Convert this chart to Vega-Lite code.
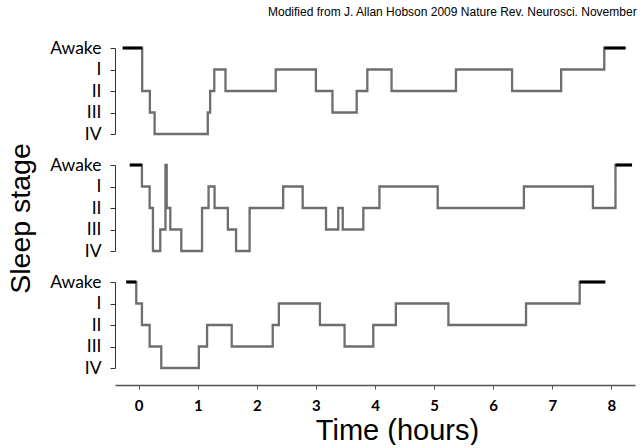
{
  "$schema": "https://vega.github.io/schema/vega-lite/v6.json",
  "padding": {"left": 6, "right": 6, "top": 6, "bottom": 0},
  "background": "white",
  "bounds": "flush",
  "spacing": 31,
  "title": {
    "text": "Modified from J. Allan Hobson 2009 Nature Rev. Neurosci. November",
    "anchor": "end",
    "font": "Liberation Sans",
    "fontSize": 12,
    "fontWeight": "normal",
    "color": "black",
    "offset": 20
  },
  "config": {
    "view": {"stroke": null},
    "axisY": {
      "labelFont": "Lato",
      "labelFontSize": 17.5,
      "labelColor": "black",
      "tickSize": 5,
      "tickColor": "#333",
      "domainColor": "#333",
      "labelPadding": 9,
      "grid": false
    }
  },
  "datasets": {
    "steps": [
      {"panel": 1, "t": -0.27, "stage": "Awake"},
      {"panel": 1, "t": 0.06, "stage": "II"},
      {"panel": 1, "t": 0.19, "stage": "III"},
      {"panel": 1, "t": 0.27, "stage": "IV"},
      {"panel": 1, "t": 1.17, "stage": "III"},
      {"panel": 1, "t": 1.21, "stage": "II"},
      {"panel": 1, "t": 1.28, "stage": "I"},
      {"panel": 1, "t": 1.47, "stage": "II"},
      {"panel": 1, "t": 2.32, "stage": "I"},
      {"panel": 1, "t": 3.0, "stage": "II"},
      {"panel": 1, "t": 3.28, "stage": "III"},
      {"panel": 1, "t": 3.69, "stage": "II"},
      {"panel": 1, "t": 3.87, "stage": "I"},
      {"panel": 1, "t": 4.28, "stage": "II"},
      {"panel": 1, "t": 5.37, "stage": "I"},
      {"panel": 1, "t": 6.32, "stage": "II"},
      {"panel": 1, "t": 7.15, "stage": "I"},
      {"panel": 1, "t": 7.88, "stage": "Awake"},
      {"panel": 1, "t": 8.24, "stage": "Awake"},
      {"panel": 2, "t": -0.15, "stage": "Awake"},
      {"panel": 2, "t": 0.056, "stage": "I"},
      {"panel": 2, "t": 0.186, "stage": "II"},
      {"panel": 2, "t": 0.242, "stage": "IV"},
      {"panel": 2, "t": 0.366, "stage": "III"},
      {"panel": 2, "t": 0.454, "stage": "Awake"},
      {"panel": 2, "t": 0.475, "stage": "II"},
      {"panel": 2, "t": 0.536, "stage": "III"},
      {"panel": 2, "t": 0.722, "stage": "IV"},
      {"panel": 2, "t": 1.073, "stage": "II"},
      {"panel": 2, "t": 1.183, "stage": "I"},
      {"panel": 2, "t": 1.285, "stage": "II"},
      {"panel": 2, "t": 1.51, "stage": "III"},
      {"panel": 2, "t": 1.649, "stage": "IV"},
      {"panel": 2, "t": 1.878, "stage": "II"},
      {"panel": 2, "t": 2.446, "stage": "I"},
      {"panel": 2, "t": 2.776, "stage": "II"},
      {"panel": 2, "t": 3.171, "stage": "III"},
      {"panel": 2, "t": 3.378, "stage": "II"},
      {"panel": 2, "t": 3.454, "stage": "III"},
      {"panel": 2, "t": 3.802, "stage": "II"},
      {"panel": 2, "t": 4.075, "stage": "I"},
      {"panel": 2, "t": 5.061, "stage": "II"},
      {"panel": 2, "t": 6.52, "stage": "I"},
      {"panel": 2, "t": 7.688, "stage": "II"},
      {"panel": 2, "t": 8.07, "stage": "Awake"},
      {"panel": 2, "t": 8.35, "stage": "Awake"},
      {"panel": 3, "t": -0.21, "stage": "Awake"},
      {"panel": 3, "t": -0.04, "stage": "I"},
      {"panel": 3, "t": 0.056, "stage": "II"},
      {"panel": 3, "t": 0.186, "stage": "III"},
      {"panel": 3, "t": 0.383, "stage": "IV"},
      {"panel": 3, "t": 1.019, "stage": "III"},
      {"panel": 3, "t": 1.158, "stage": "II"},
      {"panel": 3, "t": 1.575, "stage": "III"},
      {"panel": 3, "t": 2.269, "stage": "II"},
      {"panel": 3, "t": 2.373, "stage": "I"},
      {"panel": 3, "t": 3.068, "stage": "II"},
      {"panel": 3, "t": 3.485, "stage": "III"},
      {"panel": 3, "t": 3.971, "stage": "II"},
      {"panel": 3, "t": 4.353, "stage": "I"},
      {"panel": 3, "t": 5.242, "stage": "II"},
      {"panel": 3, "t": 6.556, "stage": "I"},
      {"panel": 3, "t": 7.464, "stage": "Awake"},
      {"panel": 3, "t": 7.897, "stage": "Awake"}
    ],
    "awake": [
      {"panel": 1, "t0": -0.27, "t1": 0.06},
      {"panel": 1, "t0": 7.88, "t1": 8.24},
      {"panel": 2, "t0": -0.15, "t1": 0.056},
      {"panel": 2, "t0": 8.07, "t1": 8.35},
      {"panel": 3, "t0": -0.21, "t1": -0.04},
      {"panel": 3, "t0": 7.464, "t1": 7.897}
    ]
  },
  "vconcat": [
    {
      "width": 520,
      "height": 86,
      "layer": [
        {
          "data": {"name": "steps"},
          "transform": [{"filter": "datum.panel == 1"}],
          "mark": {"type": "line", "interpolate": "step-after", "stroke": "#6e6e6e", "strokeWidth": 2.3},
          "encoding": {
            "x": {"field": "t", "type": "quantitative", "scale": {"domain": [-0.4, 8.4], "nice": false, "zero": false}, "axis": null},
            "y": {"field": "stage", "type": "ordinal", "scale": {"type": "point", "domain": ["Awake", "I", "II", "III", "IV"], "padding": 0}, "axis": {"title": null}},
            "order": {"field": "t", "type": "quantitative"}
          }
        },
        {
          "data": {"name": "awake"},
          "transform": [{"filter": "datum.panel == 1"}],
          "mark": {"type": "rule", "stroke": "black", "strokeWidth": 3},
          "encoding": {
            "x": {"field": "t0", "type": "quantitative"},
            "x2": {"field": "t1"},
            "y": {"datum": "Awake", "type": "ordinal"}
          }
        }
      ]
    },
    {
      "width": 520,
      "height": 86,
      "layer": [
        {
          "data": {"name": "steps"},
          "transform": [{"filter": "datum.panel == 2"}],
          "mark": {"type": "line", "interpolate": "step-after", "stroke": "#6e6e6e", "strokeWidth": 2.3},
          "encoding": {
            "x": {"field": "t", "type": "quantitative", "scale": {"domain": [-0.4, 8.4], "nice": false, "zero": false}, "axis": null},
            "y": {"field": "stage", "type": "ordinal", "scale": {"type": "point", "domain": ["Awake", "I", "II", "III", "IV"], "padding": 0}, "axis": {"title": "Sleep stage", "titleFont": "Liberation Sans", "titleFontSize": 28.5, "titleFontWeight": "normal", "titleColor": "black", "titlePadding": 14, "titleY": 53}},
            "order": {"field": "t", "type": "quantitative"}
          }
        },
        {
          "data": {"name": "awake"},
          "transform": [{"filter": "datum.panel == 2"}],
          "mark": {"type": "rule", "stroke": "black", "strokeWidth": 3},
          "encoding": {
            "x": {"field": "t0", "type": "quantitative"},
            "x2": {"field": "t1"},
            "y": {"datum": "Awake", "type": "ordinal"}
          }
        }
      ]
    },
    {
      "width": 520,
      "height": 86,
      "layer": [
        {
          "data": {"name": "steps"},
          "transform": [{"filter": "datum.panel == 3"}],
          "mark": {"type": "line", "interpolate": "step-after", "stroke": "#6e6e6e", "strokeWidth": 2.3},
          "encoding": {
            "x": {"field": "t", "type": "quantitative", "scale": {"domain": [-0.4, 8.4], "nice": false, "zero": false},
              "axis": {"values": [0, 1, 2, 3, 4, 5, 6, 7, 8], "format": "d", "title": "Time (hours)", "offset": 17, "grid": false,
                "tickSize": 4, "tickColor": "#555", "domainColor": "#555", "domainWidth": 1.5,
                "labelFont": "Lato", "labelFontWeight": "bold", "labelFontSize": 15, "labelColor": "black", "labelPadding": 9,
                "titleFont": "Liberation Sans", "titleFontSize": 29, "titleFontWeight": "normal", "titleColor": "black", "titlePadding": 3, "titleX": 282}},
            "y": {"field": "stage", "type": "ordinal", "scale": {"type": "point", "domain": ["Awake", "I", "II", "III", "IV"], "padding": 0}, "axis": {"title": null}},
            "order": {"field": "t", "type": "quantitative"}
          }
        },
        {
          "data": {"name": "awake"},
          "transform": [{"filter": "datum.panel == 3"}],
          "mark": {"type": "rule", "stroke": "black", "strokeWidth": 3},
          "encoding": {
            "x": {"field": "t0", "type": "quantitative"},
            "x2": {"field": "t1"},
            "y": {"datum": "Awake", "type": "ordinal"}
          }
        }
      ]
    }
  ]
}
